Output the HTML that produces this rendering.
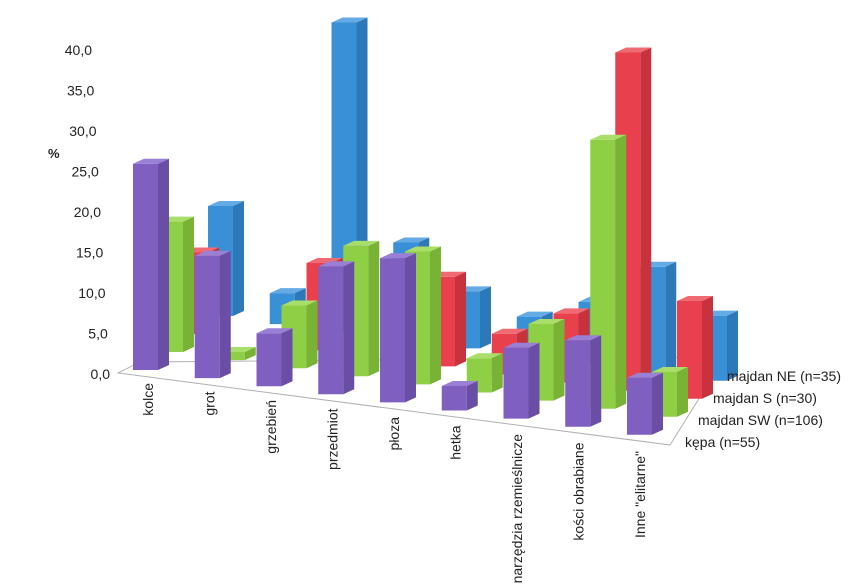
<!DOCTYPE html>
<html><head><meta charset="utf-8"><style>
html,body{margin:0;padding:0;background:#fff;}
svg{display:block;font-family:"Liberation Sans",sans-serif;}
</style></head><body>
<svg id="chart" width="846" height="587" viewBox="0 0 846 587" xmlns="http://www.w3.org/2000/svg">
<g id="floor"></g>
<g id="yaxis"></g>
<g id="bars"></g>
<g id="xaxis"></g>
<g id="legend"></g>
<text x="48" y="158" font-size="13" font-weight="bold" fill="#222">%</text>
</svg>
<script>
const categories = ["kolce","grot","grzebień","przedmiot","płoza","hetka","narzędzia rzemieślnicze","kości obrabiane","Inne \"elitarne\""];
const seriesNames = ["kępa (n=55)","majdan SW (n=106)","majdan S (n=30)","majdan NE (n=35)"];
const kepa = [25.3,15.0,6.5,15.7,17.7,3.0,8.7,10.6,7.0];
const majdanSW = [16.0,1.0,7.7,16.0,16.3,4.2,9.4,33.0,5.5];
const majdanS = [10.0,0,10.7,0,11.0,5.0,8.5,41.5,12.0];
const majdanNE = [13.5,3.8,38.0,12.0,7.0,4.9,7.7,13.0,8.0];
const yTicks = [0,5,10,15,20,25,30,35,40];
const yTickLabels = ["0,0","5,0","10,0","15,0","20,0","25,0","30,0","35,0","40,0"];

const series = [kepa, majdanSW, majdanS, majdanNE];
const colors = [
  {f:"#7f5fc0",s:"#6a4ea6",t:"#9a7fd6"},
  {f:"#8fcf45",s:"#78b335",t:"#a9de6a"},
  {f:"#e8404c",s:"#c8323c",t:"#f06a73"},
  {f:"#3a90d6",s:"#2c78b8",t:"#64aae4"}
];
const NS = "http://www.w3.org/2000/svg";
const UNIT = 8.15;
function baseX(i,r){ return 133 + i*61.75 + r*25; }
function baseY(i,r){ return 370 + i*8.1 - r*18; }
function yScale(v){ return v*UNIT; }
const FW = 25, SW = 11, SD = 5;

function mk(tag, attrs, parent){
  const e = document.createElementNS(NS, tag);
  for (const k in attrs) e.setAttribute(k, attrs[k]);
  parent.appendChild(e); return e;
}

// floor
const floor = document.getElementById('floor');
const fl = mk('polygon',{points:"118,373 140,362 725,357 670,445", fill:"none", stroke:"#b0b0b0","stroke-width":"1"}, floor);



// y axis
const yaxis = document.getElementById('yaxis');
yTicks.forEach((v,k)=>{
  const y = 374 - v*8.1;
  const x = 110 - v*0.45;
  const t = mk('text',{x:x, y:y+5, "text-anchor":"end","font-size":"14", fill:"#222"}, yaxis);
  t.textContent = yTickLabels[k];
  
  
});

// bars
const bars = document.getElementById('bars');
for (let r=3; r>=0; r--){
  const vals = series[r];
  for (let i=0;i<categories.length;i++){
    const v = vals[i];
    if (!(v>0)) continue;
    const x = baseX(i,r), yb = baseY(i,r), h = yScale(v), yt = yb - h;
    const g = mk('g',{}, bars);
    
    
    mk('polygon',{points:`${x},${yt} ${x+FW},${yt} ${x+FW},${yb} ${x},${yb}`, fill:colors[r].f}, g);
    mk('polygon',{points:`${x+FW},${yt} ${x+FW+SW},${yt-SD} ${x+FW+SW},${yb-SD} ${x+FW},${yb}`, fill:colors[r].s}, g);
    mk('polygon',{points:`${x},${yt} ${x+SW},${yt-SD} ${x+FW+SW},${yt-SD} ${x+FW},${yt}`, fill:colors[r].t}, g);
  }
}

// category labels
const xaxis = document.getElementById('xaxis');
categories.forEach((c,i)=>{
  const x = 153 + i*61.5;
  const y = 383 + i*8.5;
  const t = mk('text',{x:0,y:0,"text-anchor":"end","font-size":"14",fill:"#222",
    transform:`translate(${x},${y}) rotate(-90)`}, xaxis);
  t.textContent = c;
  
  
});

// series labels
const legend = document.getElementById('legend');
const legPos = [[685,447],[698,425],[713,403],[727,381]];
seriesNames.forEach((s,r)=>{
  const t = mk('text',{x:legPos[r][0], y:legPos[r][1], "font-size":"14", fill:"#222"}, legend);
  t.textContent = s;
  
  
});
</script>
</body></html>
